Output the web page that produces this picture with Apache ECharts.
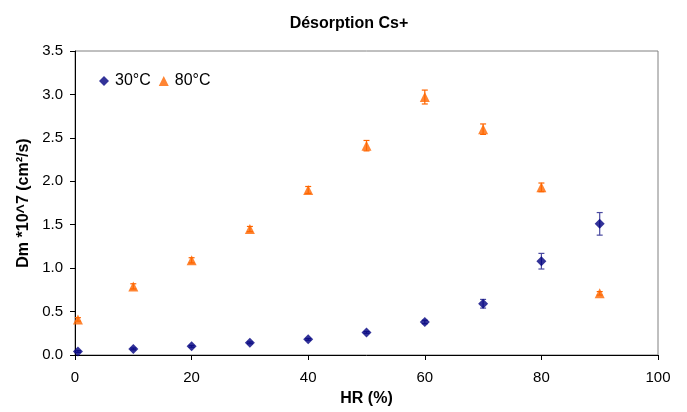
<!DOCTYPE html>
<html>
<head>
<meta charset="utf-8">
<script src="https://cdn.jsdelivr.net/npm/echarts@6/dist/echarts.min.js"></script>
<style>
  html, body { margin: 0; padding: 0; background: #fff; }
  #chart { width: 687px; height: 412px; }
</style>
</head>
<body>
<div id="chart"></div>
<script>
// HR (%) values
const hr = [0.5, 10, 20, 30, 40, 50, 60, 70, 80, 90]
// Dm *10^7 at 30°C and its error
const d30 = [0.04, 0.07, 0.10, 0.14, 0.18, 0.26, 0.38, 0.59, 1.08, 1.51]
const e30 = [0.01, 0.01, 0.01, 0.01, 0.01, 0.01, 0.02, 0.05, 0.09, 0.13]
// Dm *10^7 at 80°C and its error
const d80 = [0.41, 0.79, 1.09, 1.45, 1.90, 2.41, 2.97, 2.60, 1.93, 0.71]
const e80 = [0.02, 0.03, 0.03, 0.03, 0.04, 0.06, 0.08, 0.06, 0.05, 0.02]

const FONT = 'Liberation Sans, Arial, sans-serif'

const errData = (vals, errs) => hr.map((x, i) => [x, vals[i] - errs[i], vals[i] + errs[i]])

const errSeries = (name, vals, errs, color) => ({
  name: name,
  type: 'custom',
  silent: true,
  z: 1,
  data: errData(vals, errs),
  renderItem: (params, api) => {
    const lo = api.coord([api.value(0), api.value(1)])
    const hi = api.coord([api.value(0), api.value(2)])
    const cap = 3
    const style = { stroke: color, lineWidth: 1.2 }
    return {
      type: 'group',
      children: [
        { type: 'line', shape: { x1: lo[0], y1: lo[1], x2: hi[0], y2: hi[1] }, style },
        { type: 'line', shape: { x1: lo[0] - cap, y1: lo[1], x2: lo[0] + cap, y2: lo[1] }, style },
        { type: 'line', shape: { x1: hi[0] - cap, y1: hi[1], x2: hi[0] + cap, y2: hi[1] }, style },
      ],
    }
  },
})

const chart = echarts.init(document.getElementById('chart'))
chart.setOption({
  animation: false,
  backgroundColor: '#fff',
  title: {
    text: 'Désorption Cs+',
    left: 344,
    textAlign: 'center',
    top: 11,
    textStyle: { fontFamily: FONT, fontSize: 16, fontWeight: 'bold', color: '#000' },
  },
  legend: {
    data: [
      { name: '30°C', icon: 'diamond' },
      { name: '80°C', icon: 'triangle' },
    ],
    left: 94,
    top: 68,
    itemWidth: 10,
    itemHeight: 10,
    itemGap: 8,
    textStyle: { fontFamily: FONT, fontSize: 16, color: '#000', padding: [0, 0, 0, 1] },
  },
  grid: {
    left: 75, right: 29, top: 51, bottom: 57,
    show: true,
    borderColor: '#808080',
    borderWidth: 1,
  },
  xAxis: {
    type: 'value',
    min: 0,
    max: 100,
    interval: 20,
    name: 'HR (%)',
    nameLocation: 'middle',
    nameGap: 36,
    nameTextStyle: { fontFamily: FONT, fontSize: 16, fontWeight: 'bold', color: '#000' },
    axisLine: { lineStyle: { color: '#000', width: 1 } },
    axisTick: { show: true, inside: false, length: 5, lineStyle: { color: '#000' } },
    axisLabel: { fontFamily: FONT, fontSize: 15, color: '#000', margin: 15 },
    splitLine: { show: false },
  },
  yAxis: {
    type: 'value',
    min: 0,
    max: 3.5,
    interval: 0.5,
    name: 'Dm *10^7 (cm²/s)',
    nameLocation: 'middle',
    nameGap: 40,
    nameTextStyle: { fontFamily: FONT, fontSize: 16, fontWeight: 'bold', color: '#000' },
    axisLine: { show: true, lineStyle: { color: '#000', width: 1 } },
    axisTick: { show: true, inside: false, length: 5, lineStyle: { color: '#000' } },
    axisLabel: { fontFamily: FONT, fontSize: 15, color: '#000', margin: 12, formatter: v => v.toFixed(1) },
    splitLine: { show: false },
  },
  series: [
    errSeries('err30', d30, e30, '#4a4aa0'),
    errSeries('err80', d80, e80, '#ff6600'),
    {
      name: '30°C',
      type: 'scatter',
      symbol: 'diamond',
      symbolSize: 10,
      z: 3,
      itemStyle: { color: '#000080' },
      data: hr.map((x, i) => [x, d30[i]]),
    },
    {
      name: '80°C',
      type: 'scatter',
      symbol: 'triangle',
      symbolSize: 10,
      z: 3,
      itemStyle: { color: '#ff6600' },
      data: hr.map((x, i) => [x, d80[i]]),
    },
  ],
})
</script>
</body>
</html>
